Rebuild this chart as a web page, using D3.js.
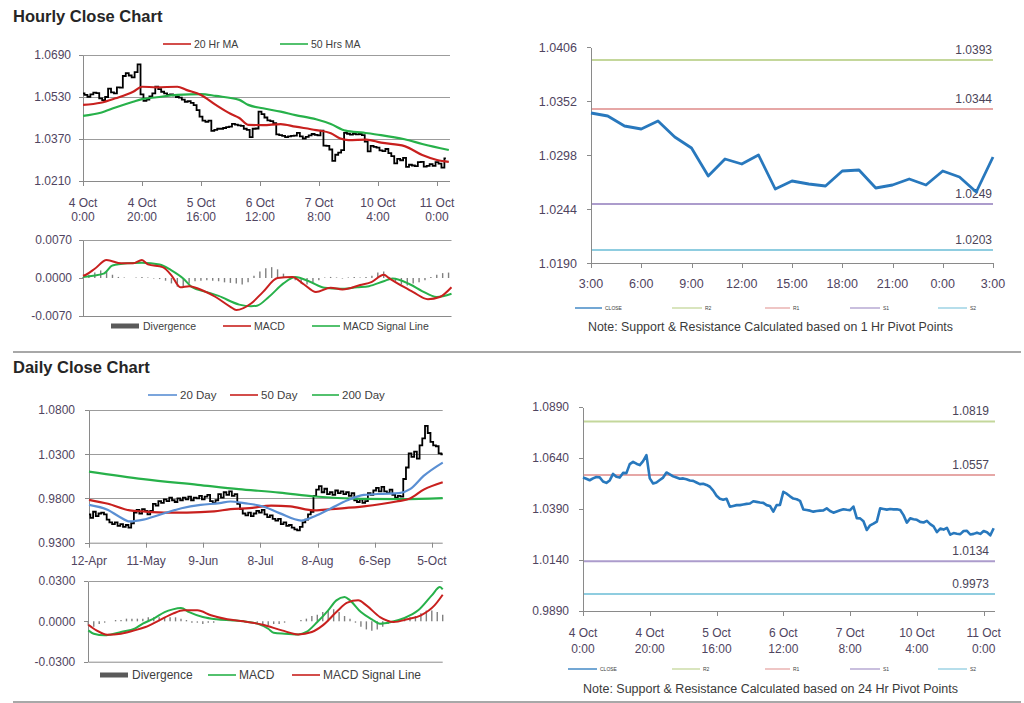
<!DOCTYPE html>
<html><head><meta charset="utf-8">
<script src="https://cdn.jsdelivr.net/npm/d3@7"></script>
<style>
body{margin:0;background:#fff}
svg{display:block}
text{font-family:Arial,"Liberation Sans",sans-serif}
</style>
</head><body>
<svg id="c" width="1024" height="703"></svg>
<script>
// ---------------- DATA ----------------
// Hourly close (4 Oct 0:00 .. 11 Oct 3:00), one value per hour
const hourlyClose = [
 1.0544,1.0538,1.0531,1.0540,1.0547,1.0545,1.0525,1.0518,1.0530,1.0562,
 1.0548,1.0544,1.0567,1.0566,1.0610,1.0621,1.0612,1.0605,1.0625,1.0654,
 1.0540,1.0515,1.0520,1.0532,1.0544,1.0569,1.0560,1.0550,1.0544,1.0538,
 1.0540,1.0536,1.0530,1.0528,1.0520,1.0512,1.0514,1.0508,1.0499,1.0480,
 1.0455,1.0440,1.0435,1.0440,1.0401,1.0405,1.0409,1.0409,1.0412,1.0415,
 1.0417,1.0428,1.0425,1.0422,1.0420,1.0409,1.0405,1.0377,1.0409,1.0410,
 1.0474,1.0465,1.0452,1.0441,1.0438,1.0430,1.0388,1.0385,1.0382,1.0377,
 1.0380,1.0382,1.0383,1.0393,1.0380,1.0372,1.0378,1.0384,1.0389,1.0386,
 1.0384,1.0402,1.0345,1.0344,1.0330,1.0287,1.0310,1.0318,1.0328,1.0393,
 1.0390,1.0387,1.0390,1.0388,1.0389,1.0385,1.0360,1.0323,1.0344,1.0340,
 1.0337,1.0327,1.0324,1.0332,1.0316,1.0305,1.0277,1.0294,1.0289,1.0298,
 1.0264,1.0272,1.0269,1.0267,1.0282,1.0283,1.0265,1.0268,1.0274,1.0268,
 1.0282,1.0276,1.0261,1.0296];
const hourlyTickIdx = [0,20,40,60,80,100,120];
const hourlyTickDay = ["4 Oct","4 Oct","5 Oct","6 Oct","7 Oct","10 Oct","11 Oct"];
const hourlyTickTime = ["0:00","20:00","16:00","12:00","8:00","4:00","0:00"];
const hourlyPriceTicks = [1.0210,1.0370,1.0530,1.0690];

const ma20Idx = [0,6,11,17,20,25,32,35,40,45,50,53,56,61,67,72,79,84,87,90,96,101,109,115,120,124];
const ma20Val = [1.0500,1.0508,1.0525,1.0550,1.0569,1.0567,1.0569,1.0557,1.0538,1.0500,1.0466,1.0450,1.0424,1.0423,1.0427,1.0417,1.0404,1.0392,1.0373,1.0366,1.0368,1.0356,1.0343,1.0309,1.0290,1.0283];
const ma50Idx = [0,6,11,17,20,25,32,40,45,53,56,61,67,72,79,84,89,95,101,109,115,124];
const ma50Val = [1.0458,1.0470,1.0490,1.0512,1.0522,1.0529,1.0538,1.0541,1.0534,1.0519,1.0500,1.0487,1.0474,1.0461,1.0445,1.0427,1.0402,1.0394,1.0385,1.0369,1.0351,1.0328];

const hMacdTicks = [-0.007,0,0.007];
const hMacdIdx = [0,1,4,8,13,17,20,22,27,30,33,36,41,45,50,52,57,61,66,71,75,79,84,88,94,98,102,104,109,112,117,121,125];
const hMacdVal = [0.0004,0.0006,0.0017,0.0033,0.0027,0.0027,0.0033,0.0025,0.0020,0.0005,-0.0017,-0.0015,-0.0024,-0.0035,-0.0053,-0.0059,-0.0047,-0.0026,0.0000,0.0002,-0.0012,-0.0026,-0.0018,-0.0021,-0.0013,-0.0007,0.0006,-0.0001,-0.0017,-0.0026,-0.0039,-0.0035,-0.0017];
const hSignalIdx = [0,7,10,15,20,26,30,34,37,42,46,53,57,59,63,68,72,77,82,87,93,97,102,105,111,115,120,125];
const hSignalVal = [0.0002,0.0008,0.0023,0.0027,0.0028,0.0025,0.0014,-0.0001,-0.0017,-0.0026,-0.0033,-0.0049,-0.0052,-0.0051,-0.0035,-0.0010,0.0002,-0.0007,-0.0018,-0.0020,-0.0017,-0.0015,-0.0006,-0.0001,-0.0012,-0.0024,-0.0035,-0.0029];
// divergence, one bar every 2 hours
const hDivergence = [0.0002,0.0006,0.0010,0.0014,0.0012,0.0006,0.0002,0.0001,0.0000,0.0001,0.0002,0.0001,-0.0001,-0.0002,-0.0005,-0.0010,-0.0016,-0.0018,-0.0010,-0.0006,-0.0005,-0.0004,-0.0005,-0.0006,-0.0008,-0.0009,-0.0010,-0.0012,-0.0008,0.0004,0.0012,0.0018,0.0020,0.0016,0.0008,0.0002,-0.0004,-0.0010,-0.0012,-0.0008,-0.0004,0.0001,0.0002,0.0001,-0.0001,0.0001,0.0002,0.0001,0.0002,0.0004,0.0010,0.0012,0.0002,-0.0006,-0.0012,-0.0014,-0.0010,-0.0008,-0.0004,0.0002,0.0006,0.0009,0.0010];

// 1 Hr pivot chart (10 Oct 3:00 .. 11 Oct 3:00)
const pivot1hClose = [1.0340,1.0337,1.0327,1.0324,1.0332,1.0316,1.0305,1.0277,1.0294,1.0289,1.0298,1.0264,1.0272,1.0269,1.0267,1.0282,1.0283,1.0265,1.0268,1.0274,1.0268,1.0282,1.0276,1.0261,1.0296];
const pivot1hTickLabels = ["3:00","6:00","9:00","12:00","15:00","18:00","21:00","0:00","3:00"];
const pivot1hTicks = [1.0190,1.0244,1.0298,1.0352,1.0406];
const pivot1hLevels = [1.0393,1.0344,1.0249,1.0203];
const levelNames = ["R2","R1","S1","S2"];
const pivot24hLevels = [1.0819,1.0557,1.0134,0.9973];
const pivot24hTicks = [0.9890,1.0140,1.0390,1.0640,1.0890];

// Daily close (12-Apr .. 11-Oct), one value per trading day
const dailyClose = [
 0.962,0.958,0.965,0.960,0.963,0.964,0.962,0.956,0.953,0.951,
 0.953,0.949,0.951,0.948,0.950,0.947,0.952,0.964,0.967,0.963,
 0.968,0.966,0.962,0.966,0.974,0.972,0.977,0.975,0.979,0.977,
 0.981,0.978,0.976,0.980,0.978,0.981,0.979,0.982,0.978,0.981,
 0.980,0.983,0.979,0.982,0.984,0.977,0.975,0.978,0.985,0.981,
 0.987,0.984,0.988,0.983,0.985,0.974,0.968,0.963,0.961,0.964,
 0.960,0.963,0.966,0.964,0.967,0.962,0.959,0.961,0.957,0.955,
 0.957,0.951,0.953,0.949,0.950,0.947,0.945,0.944,0.948,0.953,
 0.956,0.962,0.965,0.983,0.990,0.994,0.987,0.991,0.985,0.987,
 0.984,0.989,0.986,0.988,0.985,0.987,0.983,0.986,0.978,0.976,
 0.979,0.975,0.977,0.986,0.984,0.989,0.992,0.988,0.993,0.988,
 0.986,0.990,0.984,0.981,0.983,0.982,1.002,1.015,1.031,1.027,
 1.033,1.025,1.040,1.048,1.062,1.054,1.044,1.040,1.039,1.031,
 1.030];
const dailyTickIdx = [0,21,42,63,84,105,126];
const dailyTickLabels = ["12-Apr","11-May","9-Jun","8-Jul","8-Aug","6-Sep","5-Oct"];
const dailyPriceTicks = [0.93,0.98,1.03,1.08];
const d20Idx = [0,7,11,15,20,26,34,41,48,52,57,64,70,78,83,89,95,101,108,114,118,123,130];
const d20Val = [0.9728,0.967,0.9597,0.954,0.956,0.9616,0.969,0.9728,0.9747,0.9766,0.9747,0.971,0.9634,0.955,0.960,0.969,0.978,0.984,0.9853,0.986,0.9905,1.0055,1.0206];
const d50Idx = [0,7,15,20,29,36,46,52,59,67,74,83,89,101,113,118,123,130];
const d50Val = [0.9785,0.974,0.9665,0.9653,0.964,0.964,0.9653,0.968,0.969,0.972,0.971,0.9665,0.968,0.971,0.9766,0.980,0.990,0.9984];
const d200Idx = [0,20,40,55,70,83,100,115,130];
const d200Val = [1.0104,1.0018,0.9954,0.9905,0.9867,0.9822,0.9796,0.9792,0.9803];

const dMacdTicks = [-0.03,0,0.03];
const dMacdIdx = [0,2,6,8,12,17,20,24,28,31,34,37,42,47,53,57,62,66,68,72,77,80,84,88,91,94,96,100,104,107,111,116,121,126,129,130];
const dMacdVal = [-0.0067,-0.0092,-0.0104,-0.0099,-0.0079,-0.0055,-0.0017,0.0020,0.0069,0.0089,0.0099,0.0069,0.0032,0.0015,0.0007,0.0000,-0.0017,-0.0055,-0.0084,-0.0092,-0.0097,-0.0079,-0.0005,0.0082,0.0156,0.0181,0.0156,0.0069,0.0015,-0.0017,-0.0005,0.0025,0.0082,0.0193,0.0255,0.0238];
const dSignalIdx = [0,3,7,12,17,21,26,31,35,40,45,51,57,64,71,77,82,86,91,95,99,102,107,112,117,122,127,130];
const dSignalVal = [-0.0025,-0.0067,-0.0099,-0.0092,-0.0067,-0.0042,0.0007,0.0057,0.0082,0.0082,0.0045,0.0015,0.0000,-0.0025,-0.0067,-0.0097,-0.0079,-0.0030,0.0069,0.0139,0.0156,0.0119,0.0032,-0.0005,0.0015,0.0045,0.0119,0.0198];
// divergence, one bar every 2 days
const dDivergence = [-0.003,-0.004,-0.002,-0.001,0,0.001,0.001,0.002,0.002,0.002,0.002,0.003,0.003,0.003,0.003,0.003,0.003,0.002,0.001,-0.001,-0.001,-0.002,-0.001,-0.001,0,0,0,0,0,0,0,-0.001,-0.002,-0.003,-0.002,-0.002,-0.001,0,0,0.001,0.002,0.004,0.005,0.007,0.008,0.009,0.007,0.004,0.002,-0.001,-0.004,-0.006,-0.007,-0.006,-0.004,-0.002,0,0.001,0.002,0.003,0.004,0.006,0.008,0.008,0.007,0.005];

// ---------------- DRAWING ----------------
const svg = d3.select('#c');
const AX = '#8a8a8a', GRID = '#9c9c9c', LBL = '#4f4460';
const FONT = 'Arial, "Liberation Sans", sans-serif';
const cRed = '#c8201e', cGreen = '#27b14a', cBlue = '#5a8fd3', cClose = '#2878bd';
const levelColors = ['#c4d79b','#e6a7a6','#ac9ccc','#8fcde0'];
const loc = d3.formatLocale({decimal: '.', thousands: ',', grouping: [3], currency: ['', ''], minus: '-'});
const f4 = loc.format('.4f');

function yAxis(x, y, vals, pad, fs) {
  const g = svg.append('g').attr('transform', `translate(${x},0)`)
    .call(d3.axisLeft(y).tickValues(vals).tickFormat(f4).tickSize(4).tickSizeOuter(0).tickPadding(pad));
  g.attr('font-family', FONT).attr('font-size', fs || 12);
  g.select('.domain').attr('stroke', AX).attr('shape-rendering', 'crispEdges');
  g.selectAll('.tick line').attr('stroke', AX).attr('shape-rendering', 'crispEdges');
  g.selectAll('.tick text').attr('fill', LBL);
}
function grid(x0, x1, y, vals) {
  svg.append('g').selectAll('line').data(vals).join('line')
    .attr('x1', x0).attr('x2', x1).attr('y1', d => Math.round(y(d)) + 0.5).attr('y2', d => Math.round(y(d)) + 0.5)
    .attr('stroke', GRID).attr('stroke-width', 1);
}
function xBase(x0, x1, yb) {
  svg.append('line').attr('x1', x0).attr('x2', x1).attr('y1', yb + 0.5).attr('y2', yb + 0.5).attr('stroke', AX);
}
function xTicks(x, idx, yb) {
  svg.append('g').selectAll('line').data(idx).join('line')
    .attr('x1', d => Math.round(x(d)) + 0.5).attr('x2', d => Math.round(x(d)) + 0.5)
    .attr('y1', yb).attr('y2', yb + 5).attr('stroke', AX);
}
function xLabels2(x, idx, l1, l2, y1, y2, fs) {
  const g = svg.append('g').attr('font-family', FONT).attr('font-size', fs).attr('fill', LBL).attr('text-anchor', 'middle');
  g.selectAll('.a').data(idx).join('text').attr('x', d => x(d)).attr('y', y1).text((d, i) => l1[i]);
  if (l2) g.selectAll('.b').data(idx).join('text').attr('x', d => x(d)).attr('y', y2).text((d, i) => l2[i]);
}
function legendLine(x0, x1, y, color, label, fs, w) {
  svg.append('line').attr('x1', x0).attr('x2', x1).attr('y1', y).attr('y2', y).attr('stroke', color).attr('stroke-width', w || 1.6);
  svg.append('text').attr('x', x1 + 3).attr('y', y).attr('dy', '0.35em').attr('font-family', FONT)
    .attr('font-size', fs).attr('fill', '#404040').text(label);
}
function legendBar(x0, x1, y, label, fs) {
  svg.append('rect').attr('x', x0).attr('y', y - 2.5).attr('width', x1 - x0).attr('height', 5).attr('fill', '#5a5a5a');
  svg.append('text').attr('x', x1 + 4).attr('y', y).attr('dy', '0.35em').attr('font-family', FONT)
    .attr('font-size', fs).attr('fill', '#404040').text(label);
}
function pairLine(x, y, idx, vals, color, w, curve) {
  const pts = idx.map((d, i) => [d, vals[i]]);
  svg.append('path').datum(pts)
    .attr('d', d3.line().x(d => x(d[0])).y(d => y(d[1])).curve(curve || d3.curveMonotoneX))
    .attr('fill', 'none').attr('stroke', color).attr('stroke-width', w).attr('stroke-linejoin', 'round');
}
function priceBars(x, y, vals) {
  svg.append('path').datum(vals)
    .attr('d', d3.line().x((d, i) => x(i)).y(d => y(d)).curve(d3.curveStep))
    .attr('fill', 'none').attr('stroke', '#000').attr('stroke-width', 1.8);
}
function divBars(x, y, vals, step) {
  svg.append('g').selectAll('line').data(vals).join('line')
    .attr('x1', (d, i) => x(i * step)).attr('x2', (d, i) => x(i * step))
    .attr('y1', y(0)).attr('y2', d => y(d)).attr('stroke', '#808080').attr('stroke-width', 1.4);
}

// Titles & separators
svg.append('text').attr('x', 13).attr('y', 22).attr('font-family', FONT).attr('font-weight', 'bold')
  .attr('font-size', 16.5).attr('fill', '#262626').text('Hourly Close Chart');
svg.append('text').attr('x', 13).attr('y', 373).attr('font-family', FONT).attr('font-weight', 'bold')
  .attr('font-size', 16.5).attr('fill', '#262626').text('Daily Close Chart');
[352, 702].forEach(yy => svg.append('line').attr('x1', 13).attr('x2', 1021).attr('y1', yy).attr('y2', yy)
  .attr('stroke', '#a8a8a8').attr('stroke-width', 2));

// ===== Hourly price (top-left)
{
  const x = d3.scaleLinear().domain([0, 124.4]).range([83, 450]);
  const y = d3.scaleLinear().domain([1.0210, 1.0690]).range([181, 55]);
  grid(83, 450, y, hourlyPriceTicks.slice(1));
  xBase(83, 450, 181);
  xTicks(x, hourlyTickIdx, 181);
  yAxis(83, y, hourlyPriceTicks, 8, 12);
  xLabels2(x, hourlyTickIdx, hourlyTickDay, hourlyTickTime, 206.5, 220.5, 12);
  priceBars(x, y, hourlyClose);
  pairLine(x, y, ma50Idx, ma50Val, cGreen, 2.2);
  pairLine(x, y, ma20Idx, ma20Val, cRed, 2.2);
  legendLine(163, 191, 44, cRed, '20 Hr MA', 10.5);
  legendLine(280, 308, 44, cGreen, '50 Hrs MA', 10.5);
}
// ===== Hourly MACD
{
  const x = d3.scaleLinear().domain([0, 125]).range([83, 451.5]);
  const y = d3.scaleLinear().domain([-0.007, 0.007]).range([316, 240]);
  grid(83, 451.5, y, [0.007]);
  xBase(83, 451.5, 316);
  yAxis(83, y, hMacdTicks, 7, 12);
  divBars(x, y, hDivergence, 2);
  pairLine(x, y, hSignalIdx, hSignalVal, cGreen, 2);
  pairLine(x, y, hMacdIdx, hMacdVal, cRed, 2);
  legendBar(111, 139, 326, 'Divergence', 10.5);
  legendLine(223, 251, 326, cRed, 'MACD', 10.5);
  legendLine(312, 340, 326, cGreen, 'MACD Signal Line', 10.5);
}
// ===== 1 Hr pivot chart (top-right)
{
  const x = d3.scaleLinear().domain([0, 24]).range([591, 993]);
  const y = d3.scaleLinear().domain([1.0190, 1.0406]).range([263, 47]);
  pivot1hLevels.forEach((v, i) => {
    svg.append('line').attr('x1', 591).attr('x2', 993).attr('y1', y(v)).attr('y2', y(v))
      .attr('stroke', levelColors[i]).attr('stroke-width', 2);
    svg.append('text').attr('x', 992).attr('y', y(v) - 6).attr('text-anchor', 'end').attr('font-family', FONT)
      .attr('font-size', 12).attr('fill', '#4a4458').text(f4(v));
  });
  xBase(591, 993, 263);
  const ti = d3.range(0, 25, 3);
  xTicks(x, ti, 263);
  yAxis(591, y, pivot1hTicks, 10, 12.5);
  xLabels2(x, ti, pivot1hTickLabels, null, 288, 0, 12.5);
  svg.append('path').datum(pivot1hClose)
    .attr('d', d3.line().x((d, i) => x(i)).y(d => y(d)))
    .attr('fill', 'none').attr('stroke', cClose).attr('stroke-width', 2.8).attr('stroke-linejoin', 'round');
  const ly = 308;
  legendLine(575, 602, ly, cClose, 'CLOSE', 5, 1.3);
  legendLine(672, 702, ly, levelColors[0], levelNames[0], 5, 1.3);
  legendLine(765, 790, ly, levelColors[1], levelNames[1], 5, 1.3);
  legendLine(850, 880, ly, levelColors[2], levelNames[2], 5, 1.3);
  legendLine(938, 967, ly, levelColors[3], levelNames[3], 5, 1.3);
  svg.append('text').attr('x', 588).attr('y', 331).attr('font-family', FONT).attr('font-size', 12)
    .attr('fill', '#3a3a3a').attr('textLength', 365).attr('lengthAdjust', 'spacingAndGlyphs')
    .text('Note: Support & Resistance Calculated based on 1 Hr Pivot Points');
}
// ===== Daily price (bottom-left)
{
  const x = d3.scaleLinear().domain([0, 130]).range([89, 442.7]);
  const y = d3.scaleLinear().domain([0.93, 1.08]).range([542.7, 410]);
  grid(89, 442.7, y, dailyPriceTicks.slice(1));
  xBase(89, 442.7, 542.7);
  xTicks(x, dailyTickIdx, 542.7);
  yAxis(89, y, dailyPriceTicks, 10, 12);
  xLabels2(x, dailyTickIdx, dailyTickLabels, null, 565, 0, 12);
  priceBars(x, y, dailyClose);
  pairLine(x, y, d200Idx, d200Val, cGreen, 2.2);
  pairLine(x, y, d50Idx, d50Val, cRed, 2.2);
  pairLine(x, y, d20Idx, d20Val, cBlue, 2.2);
  legendLine(148, 177, 395, cBlue, '20 Day', 11.5);
  legendLine(230, 258, 395, cRed, '50 Day', 11.5);
  legendLine(312, 339, 395, cGreen, '200 Day', 11.5);
}
// ===== Daily MACD
{
  const x = d3.scaleLinear().domain([0, 130]).range([88.3, 442.7]);
  const y = d3.scaleLinear().domain([-0.03, 0.03]).range([661.7, 581]);
  grid(88.3, 442.7, y, [0.03]);
  xBase(88.3, 442.7, 661.7);
  yAxis(88.3, y, dMacdTicks, 9, 12);
  divBars(x, y, dDivergence, 2);
  pairLine(x, y, dMacdIdx, dMacdVal, cGreen, 2);
  pairLine(x, y, dSignalIdx, dSignalVal, cRed, 2);
  legendBar(100, 128, 675, 'Divergence', 12);
  legendLine(208, 236, 675, cGreen, 'MACD', 12);
  legendLine(292, 320, 675, cRed, 'MACD Signal Line', 12);
}
// ===== 24 Hr pivot chart (bottom-right)
{
  const x = d3.scaleLinear().domain([0, 123.4]).range([583, 995]);
  const y = d3.scaleLinear().domain([0.989, 1.089]).range([611, 407]);
  pivot24hLevels.forEach((v, i) => {
    svg.append('line').attr('x1', 583).attr('x2', 995).attr('y1', y(v)).attr('y2', y(v))
      .attr('stroke', levelColors[i]).attr('stroke-width', 2);
    svg.append('text').attr('x', 989).attr('y', y(v) - 6).attr('text-anchor', 'end').attr('font-family', FONT)
      .attr('font-size', 12).attr('fill', '#4a4458').text(f4(v));
  });
  xBase(583, 995, 611);
  xTicks(x, hourlyTickIdx, 611);
  yAxis(583, y, pivot24hTicks, 10, 12);
  xLabels2(x, hourlyTickIdx, hourlyTickDay, hourlyTickTime, 637, 653, 12);
  svg.append('path').datum(hourlyClose)
    .attr('d', d3.line().x((d, i) => x(i)).y(d => y(d)))
    .attr('fill', 'none').attr('stroke', cClose).attr('stroke-width', 2.6).attr('stroke-linejoin', 'round');
  const ly = 669;
  legendLine(568, 597, ly, cClose, 'CLOSE', 5, 1.3);
  legendLine(672, 700, ly, levelColors[0], levelNames[0], 5, 1.3);
  legendLine(765, 790, ly, levelColors[1], levelNames[1], 5, 1.3);
  legendLine(850, 880, ly, levelColors[2], levelNames[2], 5, 1.3);
  legendLine(938, 967, ly, levelColors[3], levelNames[3], 5, 1.3);
  svg.append('text').attr('x', 583).attr('y', 693).attr('font-family', FONT).attr('font-size', 12)
    .attr('fill', '#3a3a3a').attr('textLength', 375).attr('lengthAdjust', 'spacingAndGlyphs')
    .text('Note: Support & Resistance Calculated based on 24 Hr Pivot Points');
}
</script>
</body></html>
